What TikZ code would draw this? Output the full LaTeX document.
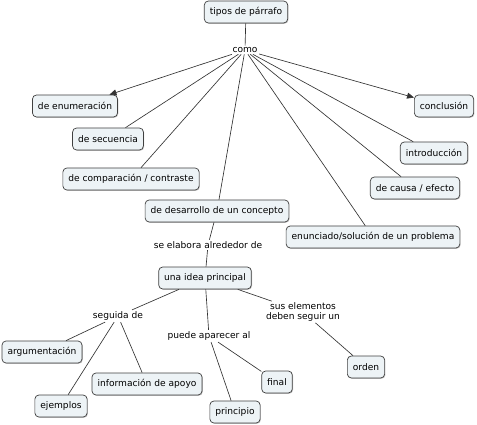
\documentclass[tikz,border=0pt]{standalone}
\usepackage{fontspec}
\setmainfont{DejaVu Sans}
\usetikzlibrary{arrows.meta,shadows}
\definecolor{boxfill}{HTML}{EDF3F6}
\begin{document}
\begin{tikzpicture}[x=1pt,y=-1pt,
  concept/.style={draw=black!75, line width=0.7pt, rounded corners=4pt, fill=boxfill,
    font=\fontsize{9.1}{10.5}\selectfont, inner xsep=5.5pt, minimum height=22pt,
    drop shadow={shadow xshift=0.8pt, shadow yshift=-0.8pt, fill=black!45}},
  linklabel/.style={font=\fontsize{9.1}{10.5}\selectfont, inner sep=1.5pt, align=center},
  conn/.style={draw=black!80, line width=0.65pt},
  arr/.style={conn, -{Triangle[length=7pt,width=6pt]}}]
\useasboundingbox (0,0) rectangle (477,425);
\node[concept] (tipos) at (246,12) {tipos de párrafo};
\node[linklabel] (como) at (245,50) {como};
\node[concept] (enum) at (75,106) {de enumeración};
\node[concept] (concl) at (444,106) {conclusión};
\node[concept] (secu) at (108,139) {de secuencia};
\node[concept] (comp) at (131,179) {de comparación / contraste};
\node[concept] (intro) at (434,153) {introducción};
\node[concept] (causa) at (415,188) {de causa / efecto};
\node[concept] (desa) at (217,211) {de desarrollo de un concepto};
\node[concept] (enun) at (373,237) {enunciado/solución de un problema};
\node[linklabel] (sela) at (208,245) {se elabora alrededor de};
\node[concept] (idea) at (205,278) {una idea principal};
\node[linklabel] (seg) at (118,316) {seguida de};
\node[linklabel] (sus) at (303,312) {sus elementos\\[-1pt]deben seguir un};
\node[linklabel] (pued) at (209,336) {puede aparecer al};
\node[concept] (argu) at (42,352) {argumentación};
\node[concept] (orden) at (366,367) {orden};
\node[concept] (final) at (277,382) {final};
\node[concept] (info) at (147,384) {información de apoyo};
\node[concept] (ejem) at (61,406) {ejemplos};
\node[concept] (prin) at (235,412) {principio};
\draw[conn] (tipos) -- (como);
\draw[arr] (como) -- (enum);
\draw[arr] (como) -- (concl);
\draw[conn] (como) -- (secu);
\draw[conn] (como) -- (comp);
\draw[conn] (como) -- (desa);
\draw[conn] (como) -- (enun);
\draw[conn] (como) -- (causa);
\draw[conn] (como) -- (intro);
\draw[conn] (desa) -- (sela);
\draw[conn] (sela) -- (idea);
\draw[conn] (idea) -- (seg);
\draw[conn] (idea) -- (pued);
\draw[conn] (idea) -- (sus);
\draw[conn] (seg) -- (argu);
\draw[conn] (seg) -- (ejem);
\draw[conn] (seg) -- (info);
\draw[conn] (pued) -- (prin);
\draw[conn] (pued) -- (final);
\draw[conn] (sus) -- (orden);
\end{tikzpicture}
\end{document}
